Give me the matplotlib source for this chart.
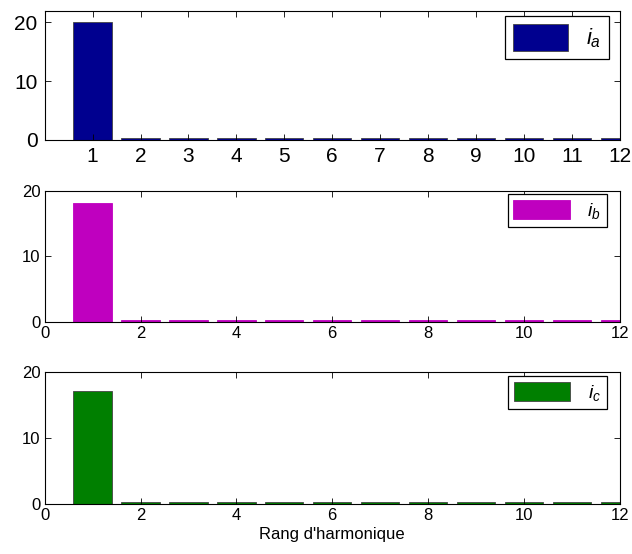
import numpy as np
import matplotlib
matplotlib.use('Agg')
from matplotlib import pyplot as plt

# 谐波次数与各相电流幅值
rangs = np.arange(1, 13)
ia = [20.0, 0.3, 0.3, 0.3, 0.3, 0.3, 0.3, 0.3, 0.3, 0.3, 0.3, 0.3]
ib = [18.1, 0.3, 0.3, 0.3, 0.3, 0.3, 0.3, 0.3, 0.3, 0.3, 0.3, 0.3]
ic = [17.1, 0.3, 0.3, 0.3, 0.3, 0.3, 0.3, 0.3, 0.3, 0.3, 0.3, 0.3]
noms = ['$i_a$', '$i_b$', '$i_c$']
couleurs = ['#00008f', '#bf00bf', '#007f00']
bords = ['#444444', '#bf00bf', '#444444']

plt.rcParams['font.family'] = ['Liberation Sans', 'DejaVu Sans']
plt.rcParams['mathtext.fontset'] = 'custom'
plt.rcParams['mathtext.it'] = 'Liberation Sans:italic'
plt.rcParams['mathtext.rm'] = 'Liberation Sans'

fig = plt.figure(figsize=(6.32, 5.54), dpi=100)
positions = [
    [0.0707, 0.7473, 0.910, 0.2334],
    [0.0707, 0.4193, 0.910, 0.2365],
    [0.0707, 0.0903, 0.910, 0.2377],
]
legend_pos = [(0.981, 0.959), (0.977, 0.975), (0.977, 0.972)]

for k, valeurs in enumerate([ia, ib, ic]):
    ax = fig.add_axes(positions[k])
    ax.bar(rangs, valeurs, width=0.8, color=couleurs[k], edgecolor=bords[k],
           linewidth=0.6, label=noms[k])
    ax.set_xlim(0, 12)
    ax.set_yticks([0, 10, 20])
    ax.tick_params(direction='in', top=True, right=True, length=4, width=0.6)
    for s in ax.spines.values():
        s.set_linewidth(0.8)
    if k == 0:
        # 第一幅图：较大字体，刻度 1..12
        ax.set_ylim(0, 22)
        ax.set_xticks(rangs)
        ax.tick_params(labelsize=15, pad=5)
        leg = ax.legend(loc='upper right', bbox_to_anchor=legend_pos[k],
                        fontsize=16, handlelength=2.5, handleheight=1.5,
                        borderpad=0.35, handletextpad=0.8, fancybox=False,
                        framealpha=1, edgecolor='black', borderaxespad=0)
    else:
        ax.set_ylim(0, 20)
        ax.set_xticks([0, 2, 4, 6, 8, 10, 12])
        ax.tick_params(labelsize=12, pad=3)
        leg = ax.legend(loc='upper right', bbox_to_anchor=legend_pos[k],
                        fontsize=14, handlelength=2.9, handleheight=1.15,
                        borderpad=0.3, handletextpad=0.9, fancybox=False,
                        framealpha=1, edgecolor='black', borderaxespad=0)
    leg.get_frame().set_linewidth(0.9)
    if k == 2:
        ax.set_xlabel("Rang d'harmonique", fontsize=12, labelpad=3)

plt.savefig('out.png', dpi=100)
